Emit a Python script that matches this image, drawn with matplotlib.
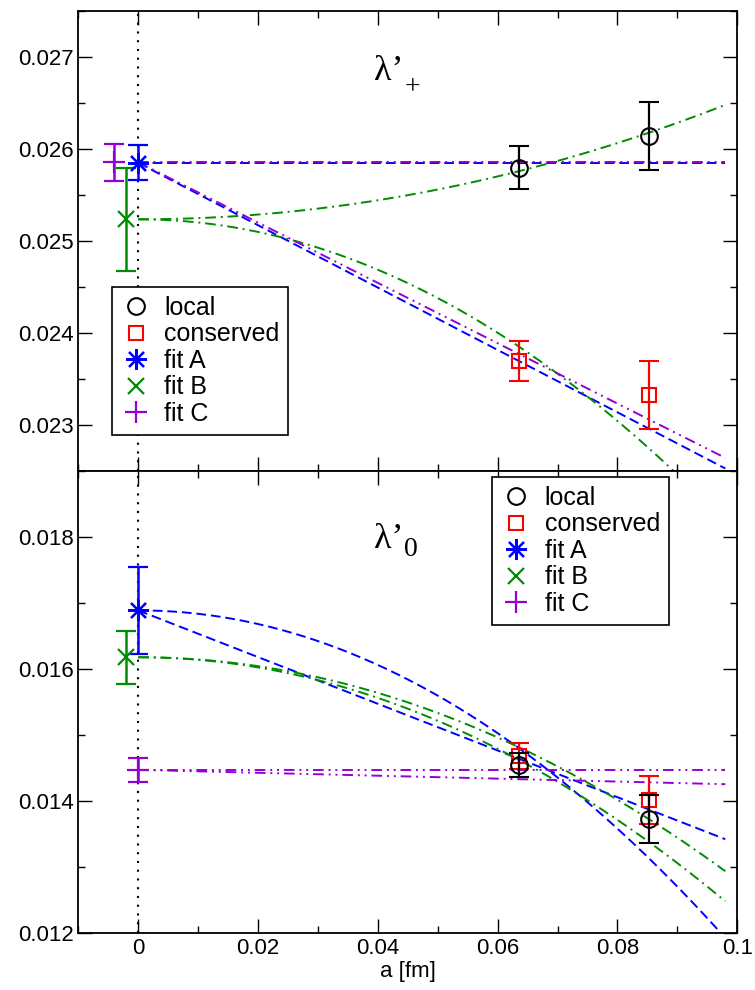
import numpy as np
import matplotlib
matplotlib.use('Agg')
import matplotlib.pyplot as plt
from matplotlib.ticker import MultipleLocator

plt.rcParams['font.family'] = ['Liberation Sans', 'DejaVu Sans']

# lattice spacings of the two ensembles
a_lat = [0.0635, 0.0853]

# lambda'_+ : data and extrapolated values
plus_local = [0.025794, 0.026141]
plus_local_err = [0.00023, 0.00037]
plus_cons = [0.023689, 0.023324]
plus_cons_err = [0.00022, 0.00037]
plus_fit_x = [0.0, -0.002, -0.004]
plus_fit = [0.025845, 0.025231, 0.025852]
plus_fit_err = [0.00019, 0.00056, 0.00020]

# lambda'_0 : data and extrapolated values
zero_local = [0.014543, 0.013717]
zero_local_err = [0.00018, 0.000365]
zero_cons = [0.01468, 0.01401]
zero_cons_err = [0.00020, 0.00037]
zero_fit_x = [0.0, -0.002, 0.0]
zero_fit = [0.016883, 0.016173, 0.014467]
zero_fit_err = [0.00066, 0.00040, 0.00018]

# fit curves: (linear, quadratic) coefficients for local / conserved
plus_coef_A = [(0.0, 0.0), (-0.0339, 0.0)]
plus_coef_B = [(0.0, 0.1295), (0.0, -0.3425)]
plus_coef_C = [(0.0, 0.0), (-0.0328, 0.0)]
zero_coef_A = [(0.0, -0.5167), (-0.03538, 0.0)]
zero_coef_B = [(0.0, -0.3375), (0.0, -0.385)]
zero_coef_C = [(0.0, 0.0), (-0.00222, 0.0)]

labels = ['local', 'conserved', 'fit A', 'fit B', 'fit C']
fit_colors = ['#0000ff', '#008c00', '#9400d3']
fit_dashes = [(5, 2.5), (5.5, 2.5, 1, 2.5), (5.5, 2.5, 1, 2.5, 1, 2.5)]
fit_markers = [(8, 2, 0), 'x', '+']
fit_ms = [15, 12, 16]

a_curve = np.linspace(0, 0.098, 200)

fig = plt.figure(figsize=(7.55, 9.9), dpi=100)
ax1 = fig.add_axes([0.1037, 0.5247, 0.8728, 0.4646])
ax2 = fig.add_axes([0.1037, 0.0579, 0.8728, 0.4667])


def draw_panel(ax, local, local_err, cons, cons_err, fx, fv, ferr, coefs):
    ax.axvline(0, color='black', lw=1.5, dashes=(1, 3.2), zorder=1)
    for i, c in enumerate(coefs):
        for lin, quad in c:
            ax.plot(a_curve, fv[i] + lin * a_curve + quad * a_curve**2,
                    color=fit_colors[i], lw=1.4, dashes=fit_dashes[i], zorder=2)
    ax.errorbar(a_lat, local, yerr=local_err, fmt='o', ms=12, mfc='none',
                mec='black', mew=1.5, ecolor='black', elinewidth=1.6,
                capsize=7, capthick=1.6, zorder=4)
    ax.errorbar(a_lat, cons, yerr=cons_err, fmt='s', ms=10, mfc='none',
                mec='red', mew=1.5, ecolor='red', elinewidth=1.6,
                capsize=7, capthick=1.6, zorder=3)
    for i in range(3):
        ax.errorbar([fx[i]], [fv[i]], yerr=[ferr[i]], fmt='none',
                    ecolor=fit_colors[i], elinewidth=1.8, capsize=7,
                    capthick=1.6, zorder=3)
        ax.plot([fx[i]], [fv[i]], ls='none', marker=fit_markers[i], ms=fit_ms[i],
                mec=fit_colors[i], mew=1.6, zorder=5)
    ax.set_xlim(-0.01, 0.1)
    ax.xaxis.set_major_locator(MultipleLocator(0.02))
    ax.xaxis.set_minor_locator(MultipleLocator(0.01))
    ax.tick_params(which='both', direction='in', top=True, right=True,
                   labelsize=16, width=1)
    ax.tick_params(which='major', length=10)
    ax.tick_params(which='minor', length=5)
    for s in ax.spines.values():
        s.set_linewidth(1.3)


draw_panel(ax1, plus_local, plus_local_err, plus_cons, plus_cons_err,
           plus_fit_x, plus_fit, plus_fit_err, [plus_coef_A, plus_coef_B, plus_coef_C])
draw_panel(ax2, zero_local, zero_local_err, zero_cons, zero_cons_err,
           zero_fit_x, zero_fit, zero_fit_err, [zero_coef_A, zero_coef_B, zero_coef_C])

ax1.set_ylim(0.0225, 0.0275)
ax1.yaxis.set_major_locator(MultipleLocator(0.001))
ax1.yaxis.set_minor_locator(MultipleLocator(0.0005))
ax1.tick_params(axis='x', labelbottom=False)
ax2.set_ylim(0.012, 0.019)
ax2.yaxis.set_major_locator(MultipleLocator(0.002))
ax2.yaxis.set_minor_locator(MultipleLocator(0.001))
ax2.set_xticks([0, 0.02, 0.04, 0.06, 0.08, 0.1])
ax2.set_xticklabels(['0', '0.02', '0.04', '0.06', '0.08', '0.1'])
ax2.set_xlabel('a [fm]', fontsize=16, labelpad=2)

# panel titles: lambda prime with subscript
serif = 'Liberation Serif'
ax1.text(0.0393, 0.02675, 'λ’', family=serif, fontsize=26)
ax1.text(0.0458, 0.026655, '+', family=serif, fontsize=20, ha='center', va='center')
ax2.text(0.0393, 0.01783, 'λ’', family=serif, fontsize=26)
ax2.text(0.0455, 0.01781, '0', family=serif, fontsize=20, ha='center', va='center')

# legend proxies: markers only
def proxies():
    p = [plt.Line2D([], [], ls='none', marker='o', ms=12, mfc='none', mec='black', mew=1.5),
         plt.Line2D([], [], ls='none', marker='s', ms=10, mfc='none', mec='red', mew=1.5)]
    for i in range(3):
        p.append(plt.Line2D([], [], ls='none', marker=fit_markers[i], ms=fit_ms[i],
                            mec=fit_colors[i], mew=1.6))
    return p

for ax, anchor in [(ax1, (0.0511, 0.399)), (ax2, (0.628, 0.986))]:
    leg = ax.legend(proxies(), labels, loc='upper left', bbox_to_anchor=anchor,
                    borderaxespad=0, fontsize=18, labelspacing=0.1,
                    handlelength=1.2, handletextpad=0.55, borderpad=0.35,
                    fancybox=False, framealpha=1, edgecolor='black')
    leg.get_frame().set_linewidth(1.2)
    leg.set_zorder(6)

plt.savefig('out.png', dpi=100)
